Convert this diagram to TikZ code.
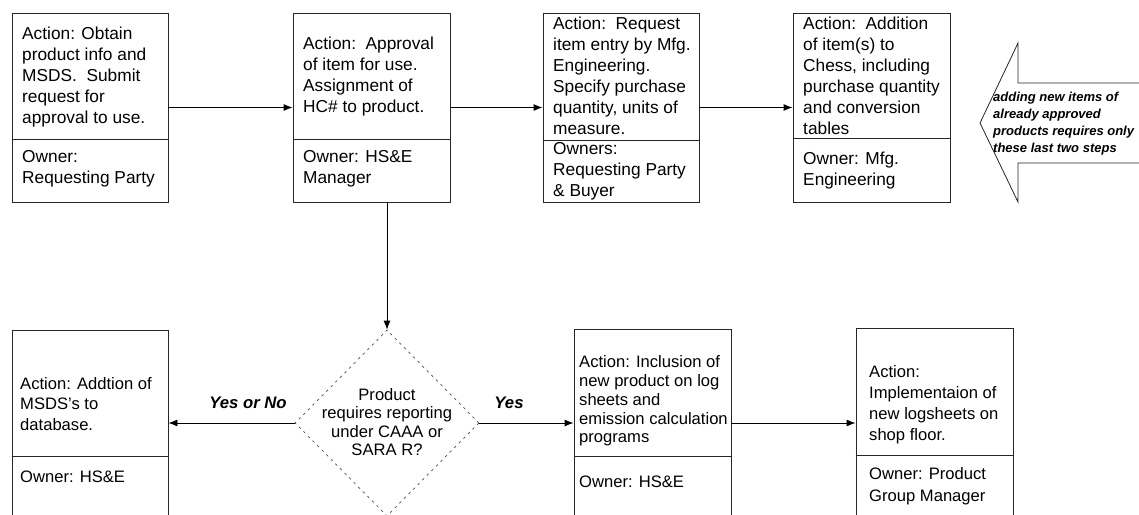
\documentclass[tikz,border=0pt]{standalone}
\usepackage{fontspec}
\setmainfont{Liberation Sans}
\usetikzlibrary{arrows.meta,shapes.geometric}

\tikzset{
  box/.style={draw=black!85, line width=0.9pt, inner sep=0pt},
  rule/.style={draw=black!85, line width=0.9pt},
  toptxt/.style={inner sep=0pt, align=left, anchor=west,
    font=\fontsize{17.3}{21}\selectfont},
  bottxt/.style={inner sep=0pt, align=left, anchor=west,
    font=\fontsize{16.6}{#1}\selectfont},
  bottxt/.default=20,
  flow/.style={draw=black, line width=0.9pt, -{Latex[length=9pt,width=7pt]}},
  decision/.style={diamond, draw=black!70, line width=0.7pt,
    dash pattern=on 2.5pt off 4pt, inner sep=0pt},
  qtxt/.style={inner sep=0pt, align=center, font=\fontsize{16.6}{18.3}\selectfont},
  answer/.style={inner sep=0pt, font=\fontsize{16.7}{20}\selectfont\bfseries\itshape},
  note/.style={inner sep=0pt, align=left, anchor=west,
    font=\fontsize{13}{16.8}\selectfont\bfseries\itshape},
}

\begin{document}
\begin{tikzpicture}[x=1pt, y=-1pt]
\useasboundingbox (0,0) rectangle (1139,514);
\clip (0,0) rectangle (1139,514);
\fill[white] (0,0) rectangle (1139,514);

% ---- upper row of steps ----
\node[box, minimum width=156, minimum height=189] (b1) at (90,107.5) {};
\node[box, minimum width=157, minimum height=189] (b2) at (371.5,107.5) {};
\node[box, minimum width=156, minimum height=189] (b3) at (621,107.5) {};
\node[box, minimum width=157, minimum height=189] (b4) at (871.5,107.5) {};

\draw[rule] (b1.west |- 0,139) -- (b1.east |- 0,139);
\draw[rule] (b2.west |- 0,139) -- (b2.east |- 0,139);
\draw[rule] (b3.west |- 0,140) -- (b3.east |- 0,140);
\draw[rule] (b4.west |- 0,138) -- (b4.east |- 0,138);

\node[toptxt] (b1a) at (22,77) {Action: Obtain\\product info and\\MSDS.\ \ Submit\\request for\\approval to use.};
\node[toptxt] (b1o) at (22,168.5) {Owner:\\Requesting Party};

\node[toptxt] (b2a) at (303,76.5) {Action:\ \ Approval\\of item for use.\\Assignment of\\HC\# to product.};
\node[toptxt] (b2o) at (303,168.5) {Owner: HS\&E\\Manager};

\node[toptxt] (b3a) at (553,76) {Action:\ \ Request\\item entry by Mfg.\\Engineering.\\Specify purchase\\quantity, units of\\measure.};
\node[toptxt] (b3o) at (553,171) {Owners:\\Requesting Party\\\& Buyer};

\node[toptxt] (b4a) at (803,76) {Action:\ \ Addition\\of item(s) to\\Chess, including\\purchase quantity\\and conversion\\tables};
\node[toptxt] (b4o) at (803,171) {Owner: Mfg.\\Engineering};

% ---- side note arrow ----
\draw[black!85, line width=0.8pt]
  (1145,83) -- (1018,83) -- (1018,43) -- (980,123) -- (1018,202) -- (1018,163) -- (1145,163);
\node[note] (nt) at (993,123.5) {adding new items of\\already approved\\products requires only\\these last two steps};

% ---- decision ----
\node[decision, minimum width=184, minimum height=186] (dm) at (387,423) {};
\node[qtxt] (dq) at (387,422) {Product\\requires reporting\\under CAAA or\\SARA R?};

% ---- lower row of steps ----
\node[box, minimum width=156, minimum height=210] (b5) at (90,435) {};
\node[box, minimum width=157, minimum height=210] (b6) at (652.5,434) {};
\node[box, minimum width=157, minimum height=210] (b7) at (934.5,433) {};

\draw[rule] (b5.west |- 0,456) -- (b5.east |- 0,456);
\draw[rule] (b6.west |- 0,456) -- (b6.east |- 0,456);
\draw[rule] (b7.west |- 0,455) -- (b7.east |- 0,455);

\node[bottxt=20.5] (b5a) at (20,404) {Action: Addtion of\\MSDS's to\\database.};
\node[bottxt] (b5o) at (20,477) {Owner: HS\&E};

\node[bottxt=18.8] (b6a) at (579,401) {Action: Inclusion of\\new product on log\\sheets and\\emission calculation\\programs};
\node[bottxt] (b6o) at (579,482) {Owner: HS\&E};

\node[bottxt=21] (b7a) at (869,404.5) {Action:\\Implementaion of\\new logsheets on\\shop floor.};
\node[bottxt=21.5] (b7o) at (869,486) {Owner: Product\\Group Manager};

% ---- answers ----
\node[answer] (yn) at (248,403) {Yes or No};
\node[answer] (ys) at (509,403) {Yes};

% ---- connectors ----
\draw[flow] (b1) -- (b2);
\draw[flow] (b2) -- (b3);
\draw[flow] (b3) -- (b4);
\draw[flow] (b2.south -| dm.north) -- (dm.north);
\draw[flow] (dm.west) -- (dm.west -| b5.east);
\draw[flow] (dm.east) -- (dm.east -| b6.west);
\draw[flow] (b6.east |- dm.east) -- (b7.west |- dm.east);
\end{tikzpicture}
\end{document}
